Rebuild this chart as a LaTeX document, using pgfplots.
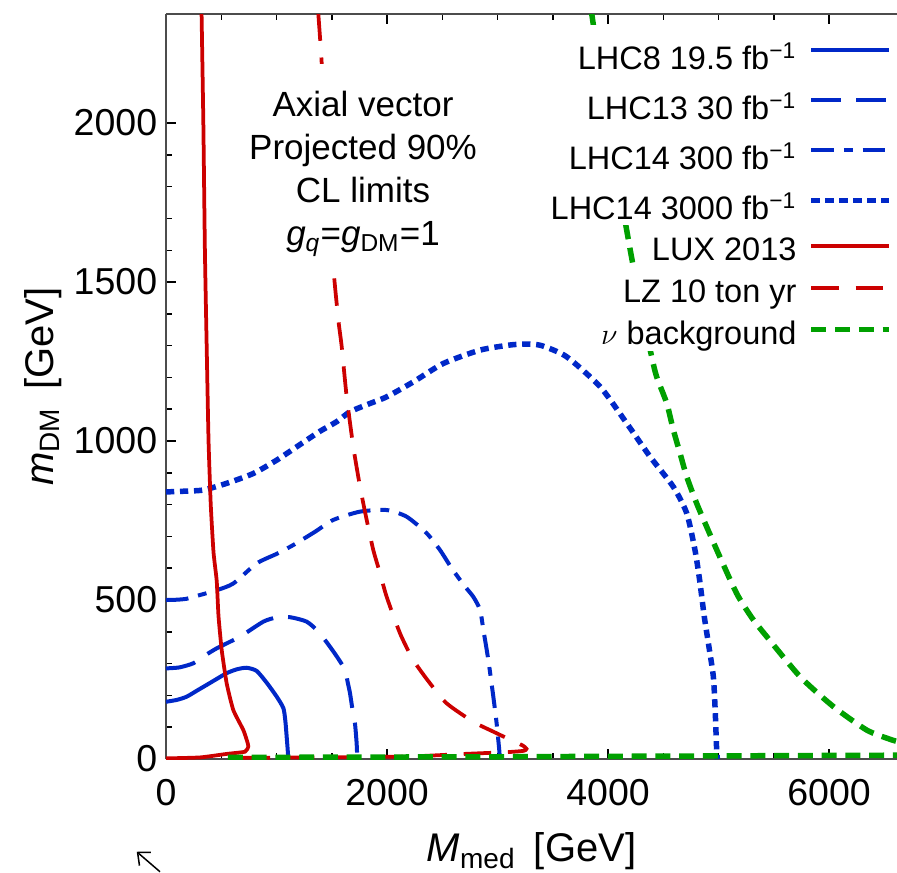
\documentclass[border=0pt]{standalone}
\usepackage{pgfplots}
\pgfplotsset{compat=1.18}
\usepackage{fontspec}
\setmainfont{Liberation Sans}
\usetikzlibrary{calc,arrows.meta}
\definecolor{lhcblue}{RGB}{0,40,200}
\definecolor{luxred}{RGB}{204,0,0}
\definecolor{nugreen}{RGB}{0,160,0}
\newcommand{\supstrut}{\rule[-3pt]{0pt}{19.5pt}}
\newcommand{\nstrut}{\rule[-3pt]{0pt}{16.2pt}}

\begin{document}
\begin{tikzpicture}[font=\fontsize{15}{18}\selectfont]
\begin{axis}[
  scale only axis, width=292.4pt, height=298pt,
  xmin=0, xmax=6615, ymin=0, ymax=2343,
  axis x line*=box, axis y line*=left,
  tick align=inside,
  xtick={0,2000,4000,6000}, minor x tick num=3,
  ytick={0,500,1000,1500,2000}, minor y tick num=4,
  major tick length=4pt, minor tick length=2.5pt,
  every tick/.style={black, line width=0.6pt},
  axis line style={black!70, line width=0.8pt},
  /pgf/number format/assume math mode=true,
  /pgf/number format/1000 sep={},
  ticklabel style={font=\fontsize{15}{18}\selectfont},
  xticklabel style={yshift=-4.4pt},
  xlabel={\textit{M}\textsubscript{med}\hspace{0.45em}[GeV]},
  ylabel={\textit{m}\textsubscript{DM}\hspace{0.45em}[GeV]},
  label style={font=\fontsize{16}{19}\selectfont},
  xlabel style={yshift=-4pt},
  ylabel shift=-2pt,
  legend cell align=right,
  legend plot pos=right,
  legend image code/.code={\draw[#1] (0pt,0pt) -- (31pt,0pt);},
  legend style={draw=none, fill=none, at={(1,1)}, anchor=north east,
    xshift=-2pt, yshift=-4.3pt, inner sep=0pt, font=\fontsize{13}{15}\selectfont,
    nodes={fill=white, inner xsep=2pt, inner ysep=1pt}, row sep=0pt, column sep=2.8pt},
]
% LHC8 19.5
\addplot[lhcblue, line width=1.6pt, smooth, tension=0.4] coordinates {
(0,180) (100,186) (187,196) (280,215) (368,233) (460,252) (549,270) (640,282) (730,287) (820,277) (911,240) (1002,196) (1062,160) (1080,120) (1092,70) (1100,35) (1107,0)};
\addlegendentry{\supstrut LHC8 19.5 fb\textsuperscript{−1}}
% LHC13 30
\addplot[lhcblue, line width=1.6pt, dash pattern=on 12pt off 6pt, smooth, tension=0.4] coordinates {
(0,285) (120,288) (247,301) (350,325) (459,348) (670,385) (881,432) (1000,445) (1122,446) (1273,432) (1380,400) (1484,353) (1560,315) (1620,280) (1645,240) (1665,207) (1690,150) (1710,112) (1725,50) (1731,0)};
\addlegendentry{\supstrut LHC13 30 fb\textsuperscript{−1}}
% LHC14 300
\addplot[lhcblue, line width=1.6pt, dash pattern=on 9pt off 4pt on 3.5pt off 4pt, smooth, tension=0.4] coordinates {
(0,500) (100,501) (187,504) (300,515) (459,531) (609,552) (820,615) (1000,645) (1152,673) (1350,715) (1514,752) (1756,778) (1997,783) (2178,762) (2359,710) (2480,657) (2585,600) (2700,545) (2781,510) (2842,469) (2872,406) (2917,311) (2962,196) (2992,112) (3017,23) (3020,0)};
\addlegendentry{\supstrut LHC14 300 fb\textsuperscript{−1}}
% LHC14 3000
\addplot[lhcblue, line width=2.2pt, dash pattern=on 3.3pt off 2.3pt, smooth, tension=0.4] coordinates {
(0,840) (150,842) (338,846) (549,867) (790,898) (1002,940) (1183,982) (1390,1030) (1545,1061) (1665,1092) (1830,1116) (1997,1139) (2238,1186) (2510,1244) (2842,1286) (3113,1302) (3264,1305) (3400,1300) (3626,1265) (3928,1171) (4169,1056) (4380,951) (4591,856) (4712,773) (4787,657) (4830,560) (4870,450) (4910,360) (4953,259) (4970,150) (4983,28) (4990,0)};
\addlegendentry{\supstrut LHC14 3000 fb\textsuperscript{−1}}
% LUX 2013
\addplot[luxred, line width=1.5pt, smooth, tension=0.3] coordinates {
(322,2343) (338,2000) (352,1600) (368,1300) (385,1000) (405,800) (430,650) (459,560) (475,450) (504,343) (549,238) (609,154) (700,91) (735,55) (745,39) (715,23) (549,16) (308,5) (0,2)};
\addlegendentry{\nstrut LUX 2013}
% LZ 10 ton yr
\addplot[luxred, line width=1.5pt, dash pattern=on 11pt off 6.7pt, smooth, tension=0.4] coordinates {
(1378,2345) (1409,2188) (1460,1850) (1514,1548) (1560,1380) (1590,1297) (1635,1139) (1695,982) (1756,856) (1816,752) (1876,657) (1937,584) (1997,510) (2118,395) (2238,311) (2389,238) (2540,175) (2781,117) (2962,86) (3143,56) (3230,42) (3262,32) (3240,26) (3150,23) (3050,21) (2700,16) (2200,8) (1500,5) (800,4) (600,3)};
\addlegendentry{\nstrut LZ 10 ton yr}
% nu background
\addplot[nugreen, line width=2.2pt, dash pattern=on 6pt off 3.5pt, smooth, tension=0.4] coordinates {
(3852,2345) (4000,2000) (4169,1663) (4229,1548) (4300,1420) (4395,1265) (4440,1202) (4531,1119) (4591,1035) (4652,961) (4712,888) (4802,804) (4893,730) (5000,645) (5165,520) (5300,445) (5436,385) (5738,259) (6039,165) (6341,91) (6552,62) (6620,55)};
\addlegendentry{\nstrut $\nu$ background}
\addplot[nugreen, line width=2.2pt, dash pattern=on 6pt off 3.5pt, forget plot] coordinates {
(560,5) (3000,7) (6620,12)};
\node[align=center, font=\fontsize{14}{17.3}\selectfont, fill=white, inner xsep=4pt, inner ysep=3pt] at (axis cs:1783,1872)
  {\rule{0pt}{18pt}Axial vector\\Projected 90\%\\CL limits\\\textit{g}\textsubscript{\textit{q}}=\textit{g}\textsubscript{DM}=1};
\end{axis}
\draw[black, line width=0.6pt, -{Straight Barb[length=4pt,width=7pt]}] ($(current axis.south west)+(-2.4pt,-45.1pt)$) -- ($(current axis.south west)+(-11.7pt,-37.1pt)$);
\pgfresetboundingbox
\path[use as bounding box] ($(current axis.south west)+(-66.4pt,-45.2pt)$) rectangle ($(current axis.north east)+(0pt,5.6pt)$);
\end{tikzpicture}
\end{document}
